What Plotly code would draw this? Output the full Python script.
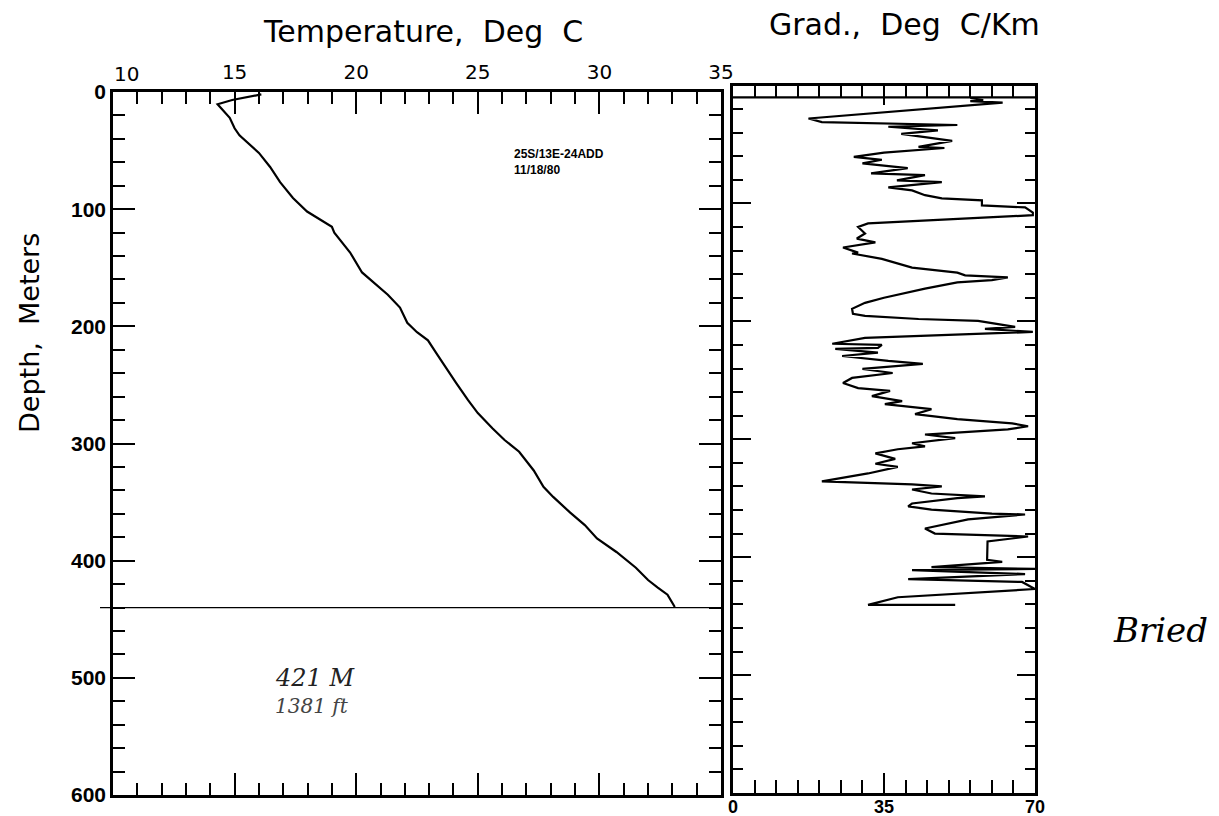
import plotly.graph_objects as go

# ---------------- data ----------------
temp_depth = [2, 4, 6.8, 10.5, 15, 22, 31, 37, 52, 64, 77, 90.5, 102, 109, 115, 120, 129, 137,
              154, 162, 173, 184, 197, 205, 212, 223, 236, 248, 263, 274, 287, 297, 307, 323,
              337, 345.6, 359, 369.6, 381, 392.6, 406, 416.5, 423, 429, 439.5]
temp_c = [16.1, 15.6, 14.9, 14.3, 14.5, 14.8, 15.0, 15.2, 16.0, 16.46, 16.87, 17.4, 17.98, 18.5,
          19.0, 19.1, 19.46, 19.75, 20.24, 20.7, 21.3, 21.8, 22.1, 22.5, 22.95, 23.3, 23.7, 24.1,
          24.6, 25.0, 25.6, 26.1, 26.7, 27.3, 27.7, 28.1, 28.8, 29.4, 29.9, 30.7, 31.5, 32.0,
          32.4, 32.8, 33.1]

grad_depth = [10.6, 12.3, 13.2, 14.5, 28, 31, 33.5, 35, 38, 41, 47, 52, 53, 57, 60.5, 63, 66, 70,
              74.5, 76, 80.4, 82, 86.4, 89, 93, 95.7, 97.4, 101.7, 103.4, 107.7, 110, 117, 120,
              125.5, 129.8, 133, 137.4, 141.7, 142.5, 147, 154.5, 158.7, 161, 162.8, 165, 167,
              172.3, 180, 184.3, 189.4, 193.6, 195.3, 198, 199.6, 204.7, 206.4, 209, 212, 214,
              219, 220, 222.5, 223.4, 226.6, 229.4, 233.6, 236, 240.4, 243.8, 248, 252.3, 256.6,
              259, 263.4, 267.7, 270.2, 274.5, 278.7, 283, 286.6, 289, 291.7, 296, 299, 303.4,
              306, 308.5, 312, 316.6, 320.8, 323.4, 329, 331.5, 335.7, 338.3, 340, 342.6, 346,
              348.5, 350, 354.5, 357, 359.6, 363, 363.8, 368, 375.7, 380, 382.5, 386.6, 402.3,
              404, 408.5, 410, 411, 414.3, 418.6, 421, 427, 434, 440.5, 440.5]
grad_val = [55, 58, 55, 62.5, 17.5, 20.6, 52, 36, 47.5, 39, 50.8, 43, 49, 35, 28, 34.5, 30, 40.5,
            32, 44.5, 38, 48.4, 36, 41.5, 44.5, 48.4, 57.7, 57.7, 67.7, 69.5, 69.5, 31.3, 29,
            30.6, 28.7, 33, 25.5, 29, 27.6, 34.5, 41.5, 52, 53.8, 63.7, 60, 52,
            44.5, 35, 30.6, 27.6, 27.8, 30.6, 43, 56.8, 65.4, 58.4, 69.5, 46, 30.6,
            23, 34.5, 33.6, 23.7, 33.6, 25.3, 36, 44, 30, 37, 27.6, 25.5, 29,
            36.4, 32.2, 39.2, 35.2, 46, 42.2, 52, 64.7, 68.4, 63.7, 44.5, 51.5, 41.5,
            44.5, 38.2, 33, 37.6, 33, 38.2, 31.3, 27.6, 20.6, 41.5, 48.4, 41.5, 46,
            58.4, 52, 41.5, 40.6, 46, 60, 67.7, 54.5, 44.5, 46.8, 68.4, 59, 58.9,
            62.4, 46, 70, 41.5, 67.7, 40.6, 67, 70, 38.2, 31.3, 51.5]

temp_ticks = [10, 15, 20, 25, 30, 35]
temp_labels = ["", "15", "20", "25", "30", "35"]
first_temp_label = "10"
temp_range = [10, 35]
grad_range = [0, 70]
depth_range = [600, 0]
bottom_depth = 440

# ---------------- layout helpers ----------------
W, H = 1219, 816
OFF = 8  # page body margin


def px(x):
    return (x - OFF) / W


def py(y):
    return 1 - (y - OFF) / H


fig = go.Figure()
fig.add_trace(go.Scatter(x=temp_c, y=temp_depth, mode="lines",
                         line=dict(color="black", width=2.2),
                         xaxis="x", yaxis="y", showlegend=False, hoverinfo="skip"))
fig.add_trace(go.Scatter(x=grad_val, y=grad_depth, mode="lines",
                         line=dict(color="black", width=2.2),
                         xaxis="x2", yaxis="y2", showlegend=False, hoverinfo="skip"))

common = dict(showline=True, linecolor="black", linewidth=2.5, mirror="ticks",
              ticks="inside", tickcolor="black", tickwidth=2, showgrid=False,
              zeroline=False, fixedrange=True, automargin=False)
numfont = dict(family="Liberation Sans", size=21, color="black", weight="bold")
botfont = dict(family="Liberation Sans", size=18, color="black", weight="bold")
topfont = dict(family="DejaVu Sans", size=20, color="black")

fig.update_layout(
    width=W, height=H, margin=dict(l=0, r=0, t=0, b=0, autoexpand=False),
    paper_bgcolor="white", plot_bgcolor="white",
    xaxis=dict(domain=[px(113), px(721)], range=temp_range, side="top", anchor="y",
               tickmode="array", tickvals=temp_ticks, ticktext=temp_labels,
               ticklen=22, tickfont=topfont, ticklabelstandoff=2,
               minor=dict(tickmode="linear", tick0=10, dtick=1, ticklen=12, tickwidth=2,
                          ticks="inside", tickcolor="black"),
               **common),
    yaxis=dict(domain=[py(795), py(92)], range=depth_range, anchor="x",
               tick0=0, dtick=100, ticklen=22, tickfont=numfont,
               minor=dict(dtick=20, ticklen=12, tickwidth=2, ticks="inside", tickcolor="black"),
               **common),
    xaxis2=dict(domain=[px(733), px(1035)], range=grad_range, side="bottom", anchor="y2",
                tick0=0, dtick=35, ticklen=20, tickfont=botfont, ticklabelstandoff=-4,
                minor=dict(dtick=5, ticklen=13, tickwidth=2, ticks="inside", tickcolor="black"),
                **common),
    yaxis2=dict(domain=[py(793), py(85.5)], range=depth_range, anchor="x2",
                tick0=0, dtick=100, ticklen=18, showticklabels=False,
                minor=dict(dtick=20, ticklen=10, tickwidth=2, ticks="inside", tickcolor="black"),
                **common),
)

# first top tick label, nudged right of the corner as in the original
fig.add_annotation(text=first_temp_label, xref="paper", yref="paper",
                   x=px(112), y=py(88), xanchor="left", yanchor="bottom",
                   showarrow=False, font=topfont)

# bottom-of-hole line and top double line on gradient panel
fig.add_shape(type="line", xref="paper", yref="y", x0=px(100), x1=px(721),
              y0=bottom_depth, y1=bottom_depth, line=dict(color="black", width=1.3))
fig.add_shape(type="line", xref="x2", yref="y2", x0=0, x1=70, y0=10, y1=10,
              line=dict(color="black", width=2.2))

titlefont = dict(family="DejaVu Sans", size=30, color="black")
fig.add_annotation(text="Temperature,  Deg\u00a0\u00a0C", xref="paper", yref="paper",
                   x=px(423), y=py(31), xanchor="center", yanchor="middle",
                   showarrow=False, font=titlefont)
fig.add_annotation(text="Grad.,  Deg\u00a0\u00a0C/Km", xref="paper", yref="paper",
                   x=px(905), y=py(24), xanchor="center", yanchor="middle",
                   showarrow=False, font=titlefont)
fig.add_annotation(text="Depth,  Meters", xref="paper", yref="paper", textangle=-90,
                   x=px(30), y=py(333), xanchor="center", yanchor="middle", showarrow=False,
                   font=dict(family="DejaVu Sans", size=27, color="black"))
fig.add_annotation(text="<b>25S/13E-24ADD<br>11/18/80</b>", xref="paper", yref="paper",
                   x=px(512), y=py(145), xanchor="left", yanchor="top", align="left",
                   showarrow=False, font=dict(family="Liberation Sans", size=12, color="black"))
hand = dict(family="DejaVu Serif", size=24, color="#222222", style="italic")
fig.add_annotation(text="421 M", xref="paper", yref="paper", x=px(315), y=py(678),
                   xanchor="center", yanchor="middle", showarrow=False, font=hand)
fig.add_annotation(text="1381 ft", xref="paper", yref="paper", x=px(312), y=py(706),
                   xanchor="center", yanchor="middle", showarrow=False,
                   font=dict(family="DejaVu Serif", size=20, color="#444444", style="italic"))
fig.add_annotation(text="Bried", xref="paper", yref="paper", x=px(1160), y=py(630),
                   xanchor="center", yanchor="middle", showarrow=False,
                   font=dict(family="DejaVu Serif", size=34, color="black", style="italic"))

fig.write_html("out.html")
